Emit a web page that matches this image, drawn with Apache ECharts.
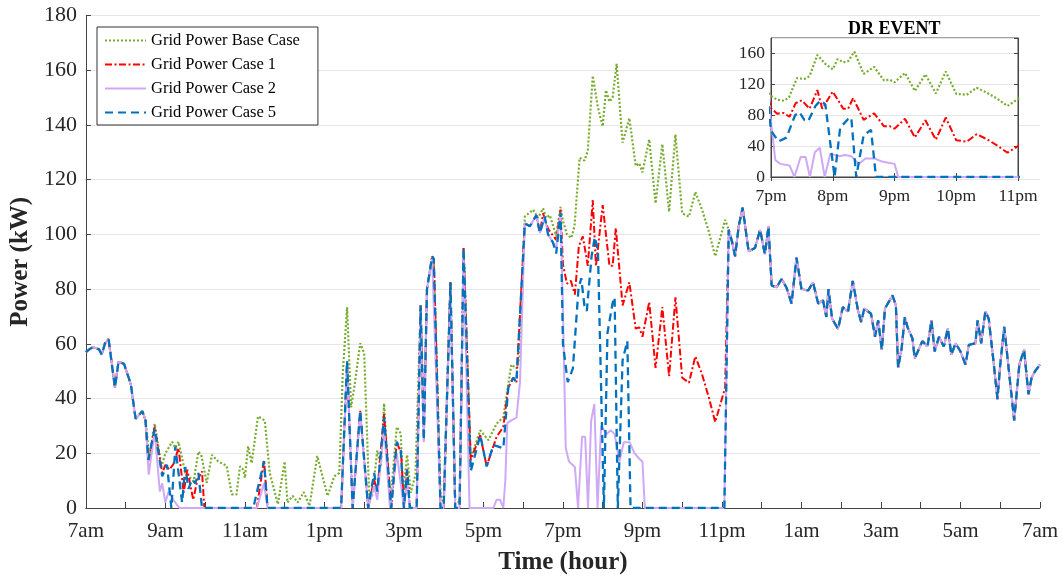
<!DOCTYPE html>
<html>
<head>
<meta charset="utf-8">
<script src="https://cdn.jsdelivr.net/npm/echarts@6/dist/echarts.min.js"></script>
<style>
  html, body { margin: 0; padding: 0; background: #fff; }
  #chart { width: 1064px; height: 580px; }
</style>
</head>
<body>
<div id="chart"></div>
<script>
// hours after 7am, kW
var mainTicks = ['7am', '9am', '11am', '1pm', '3pm', '5pm', '7pm', '9pm', '11pm', '1am', '3am', '5am', '7am'];
var insetTicks = ['7pm', '8pm', '9pm', '10pm', '11pm'];
var names = ['Grid Power Base Case', 'Grid Power Case 1', 'Grid Power Case 2', 'Grid Power Case 5'];

// shared by all cases
var morning = [[0,57],[0.07,57.8],[0.17,58.8],[0.33,58],[0.4,56],[0.48,60.2],[0.57,61.8],[0.73,44],[0.82,53.4],
  [0.96,52.7],[1.13,45.2],[1.25,32.6],[1.42,35.4],[1.5,32]];

var night = [[16.17,101.7],[16.25,97.5],[16.33,92],[16.42,102.9],[16.52,109.8],[16.67,93.8],[16.83,95],[16.96,101.7],
  [17.08,92.7],[17.17,102.9],[17.25,81.3],[17.375,80.7],[17.5,83.7],[17.625,80.5],[17.75,74.7],[17.875,91.5],[18.0,80],
  [18.17,79.5],[18.29,82.5],[18.42,74.7],[18.54,76],[18.625,69.8],[18.68,80],[18.77,69.2],[18.92,65.4],[19.04,73.4],
  [19.17,71.7],[19.29,83],[19.42,72.3],[19.5,68],[19.58,72.9],[19.75,71],[19.85,62.6],[19.93,68.6],[20.02,57.8],
  [20.1,72.9],[20.29,77.7],[20.375,74],[20.43,51.2],[20.52,58.4],[20.6,69.8],[20.67,66],[20.79,62],[20.85,54.8],
  [20.92,57],[21.04,61],[21.17,59],[21.27,68.6],[21.35,57.2],[21.46,62.6],[21.58,59],[21.68,65.6],[21.77,56],
  [21.875,60.2],[22.0,57.2],[22.125,52.4],[22.21,59.6],[22.375,60.2],[22.43,68.6],[22.52,60.2],[22.625,71.9],
  [22.71,69.2],[22.83,53.6],[22.93,39.8],[23.0,52.4],[23.1,66.2],[23.21,51.2],[23.35,32],[23.48,52.4],[23.6,57.8],
  [23.71,41.6],[23.79,47.6],[23.875,50],[24.0,52.4]];

var baseMid = [[1.6,18],[1.73,30.8],[1.9,15.2],[2.0,20],[2.17,24.2],[2.25,22],[2.33,24.2],[2.5,12.8],[2.71,9.8],
  [2.83,20.6],[2.9,19.5],[3.04,9.2],[3.17,19.4],[3.33,17],[3.54,15.4],[3.67,5],[3.79,5],[3.875,15.2],[3.96,14],
  [4.0,11],[4.08,22.6],[4.17,16.4],[4.33,33.5],[4.5,32],[4.625,12.8],[4.83,1.4],[5.0,17],[5.07,2],[5.2,4.4],
  [5.33,2],[5.48,5.8],[5.625,0.8],[5.82,19],[6.08,4.4],[6.25,11.6],[6.375,12.8],[6.46,48.8],[6.57,73.4],[6.67,36.8],
  [6.75,44],[6.9,60.2],[7.0,56.6],[7.125,5],[7.2,4.4],[7.33,21],[7.42,15],[7.5,38.2],[7.65,1],[7.82,29.6],
  [7.92,27.2],[7.98,5.6],[8.08,19.4],[8.17,5.6],[8.29,12.2],[8.42,74],[8.5,30],[8.58,80],[8.71,92],[8.75,91],
  [8.92,5],[9.0,2],[9.17,82.5],[9.29,3],[9.4,2],[9.5,95],[9.68,18.2],[9.92,28.4],[10.125,24.8],[10.33,30.8],
  [10.5,33.2],[10.7,52.4],[10.83,51],[10.92,56],[11.04,106.5],[11.25,109],[11.375,106],[11.5,109.5],[11.58,106],
  [11.67,107],[11.83,99.5],[11.94,110],[12.0,105],[12.1,100],[12.21,98.7],[12.29,103],[12.42,128],[12.54,127],
  [12.625,130.5],[12.75,158],[12.875,146.7],[13.0,139.5],[13.08,152.7],[13.17,148.5],[13.25,150],[13.35,162.3],
  [13.5,133.5],[13.67,142.5],[13.83,125],[13.92,126],[14.0,122.7],[14.17,134.7],[14.33,111.3],[14.5,133],
  [14.67,108.3],[14.83,136.5],[15.0,107.7],[15.17,106.5],[15.33,115.5],[15.5,109],[15.67,101],[15.83,92],[16.08,105.3]];

var case1Mid = [[1.57,17],[1.73,29.6],[1.92,12.8],[2.0,15.8],[2.1,14],[2.2,16],[2.33,21.8],[2.46,5.6],[2.55,14],
  [2.7,3],[2.8,10],[2.92,13.4],[2.98,0],[4.3,0],[4.48,17.6],[4.57,0],[6.42,0],[6.57,53],[6.71,0],[6.9,35.6],
  [7.1,0],[7.25,10.4],[7.33,6],[7.5,34.4],[7.68,0],[7.82,24],[7.93,20],[8.0,0],[8.08,14],[8.15,0],[8.32,0],
  [8.42,74],[8.5,24.8],[8.58,80],[8.71,92],[8.75,91],[8.92,0],[9.0,0],[9.17,82.5],[9.29,0],[9.4,0],[9.5,95],
  [9.68,17.6],[9.92,26.6],[10.08,15.2],[10.33,26],[10.5,29.6],[10.625,44],[10.75,47.6],[10.83,46],[11.04,104],
  [11.17,103],[11.33,107],[11.42,100.5],[11.5,107.7],[11.625,102],[11.83,98],[11.94,109],[12.0,89],[12.1,82],
  [12.2,83],[12.3,78],[12.4,95.7],[12.5,99.3],[12.625,88.5],[12.75,112.5],[12.83,88.5],[13.0,110.7],
  [13.17,88.5],[13.25,88.5],[13.33,102.3],[13.5,74],[13.67,82.5],[13.83,65.6],[13.92,66],[14.0,62.6],[14.17,75.3],
  [14.33,51.2],[14.5,73.4],[14.67,48.2],[14.83,77],[15.0,47.6],[15.17,45.8],[15.33,55.4],[15.5,48.8],[15.67,40.4],
  [15.83,31.4],[16.08,44]];

var case2Mid = [[1.58,12.2],[1.73,28],[1.86,6],[1.92,9],[2.0,2],[2.08,6],[2.2,3],[2.35,0],[4.3,0],[4.48,9],
  [4.57,0],[6.42,0],[6.57,53],[6.71,0],[6.9,35],[7.1,0],[7.25,8],[7.33,3],[7.5,29.6],[7.65,0],[7.82,20],[8.0,0],
  [8.08,10],[8.15,0],[8.32,0],[8.42,72],[8.5,24],[8.58,80],[8.71,91],[8.92,0],[9.0,0],[9.17,80],[9.29,0],[9.4,0],
  [9.5,94],[9.65,0],[10.25,0],[10.33,3],[10.42,3],[10.5,0],[10.55,10],[10.6,31],[10.7,32],[10.83,33],[10.92,46],
  [11.04,104],[11.17,103],[11.33,107],[11.42,100.5],[11.54,106.5],[11.625,100],[11.75,97],[11.83,95],[11.94,108],
  [12.0,72],[12.07,22],[12.15,17],[12.3,15],[12.38,0],[12.48,26],[12.56,26],[12.63,0],[12.71,32],[12.79,38],
  [12.87,0],[12.96,30],[13.1,27],[13.2,28.4],[13.3,27],[13.42,17],[13.53,24],[13.68,24],[13.8,20],[13.92,18],
  [14.0,17],[14.06,0],[16.06,0]];

var case5Mid = [[1.57,17.6],[1.73,29],[1.92,11.6],[2.04,15.8],[2.15,0],[2.25,22.4],[2.42,2],[2.5,15],[2.58,7],
  [2.67,10.4],[2.75,9],[2.83,12.8],[2.92,0],[4.21,0],[4.48,17],[4.57,0],[6.42,0],[6.57,53.8],[6.71,0],[6.9,35.6],
  [7.1,0],[7.25,12.8],[7.33,6],[7.5,33],[7.68,0],[7.82,24.2],[7.92,21],[8.0,0],[8.08,14],[8.15,0],[8.32,0],
  [8.42,74],[8.5,24.8],[8.58,80],[8.71,92],[8.75,91],[8.92,0],[9.0,0],[9.17,82.5],[9.29,0],[9.4,0],[9.5,95],
  [9.68,13.4],[9.92,26.6],[10.08,15.2],[10.25,23],[10.5,21.8],[10.625,44],[10.75,47.6],[10.83,46],[11.04,104],
  [11.17,103],[11.33,107],[11.42,100.5],[11.54,106.5],[11.625,100],[11.75,97],[11.83,93],[11.94,108],[12.0,60],
  [12.12,46],[12.25,51],[12.39,80],[12.46,84],[12.54,74],[12.6,72],[12.72,92],[12.8,99],[12.88,94],[13.03,0],
  [13.12,64],[13.25,75],[13.3,77],[13.38,0],[13.5,54],[13.62,61],[13.7,0],[16.06,0]];

var baseCase = morning.concat(baseMid, night);
var case1 = morning.concat(case1Mid, night);
var case2 = morning.concat(case2Mid, night);
var case5 = morning.concat(case5Mid, night);

var FONT = 'Liberation Serif';
var AXIS = '#444';
var GRIDLINE = '#e6e6e6';

var chart = echarts.init(document.getElementById('chart'));

function line(name, data, color, type, width, idx) {
    return {
        name: name, type: 'line', data: data,
        xAxisIndex: idx === 0 ? 0 : 1, yAxisIndex: idx === 0 ? 0 : 1,
        symbol: 'none', showSymbol: false, clip: true,
        lineStyle: { color: color, width: width, type: type },
        itemStyle: { color: color },
        z: idx === 0 ? 2 : 8
    };
}

var styles = [
    ['#77AC30', [2, 2], 2.2],
    ['#FF0000', [7, 2.5, 2, 2.5], 2],
    ['#CFA9F5', 'solid', 2],
    ['#0072BD', [8, 5], 2.3]
];
var datas = [baseCase, case1, case2, case5];

var series = [];
for (var g = 0; g < 2; g++) {
    for (var i = 0; i < 4; i++) {
        series.push(line(names[i], datas[i], styles[i][0], styles[i][1], styles[i][2], g));
    }
}

var option = {
    animation: false,
    backgroundColor: '#fff',
    title: {
        text: 'DR EVENT', left: 848, top: 20, padding: 0,
        textStyle: { fontFamily: FONT, fontWeight: 'bold', fontSize: 18, color: '#000' }
    },
    legend: {
        data: names, orient: 'vertical', left: 97, top: 27,
        itemWidth: 41, itemHeight: 14, itemGap: 7,
        padding: [5, 18, 4, 7],
        itemStyle: { opacity: 0 },
        backgroundColor: '#fff', borderColor: '#333', borderWidth: 1,
        textStyle: { fontFamily: FONT, fontSize: 16.5, color: '#000' }
    },
    grid: [
        { left: 80, right: 24, top: 15.5, bottom: 64.5 },
        { left: 771, right: 46, top: 38, bottom: 403, show: true, backgroundColor: '#fff',
          borderColor: AXIS, borderWidth: 1, z: 5 }
    ],
    xAxis: [
        {
            gridIndex: 0, type: 'value', min: 0, max: 24, interval: 1,
            axisLine: { lineStyle: { color: AXIS } },
            axisTick: { inside: true, length: 6, lineStyle: { color: AXIS } },
            axisLabel: {
                interval: 0, margin: 13, fontFamily: FONT, fontSize: 21, color: '#262626',
                formatter: function (v) { return v % 2 === 0 ? mainTicks[v / 2] : ''; }
            },
            splitLine: { show: false },
            name: 'Time (hour)', nameLocation: 'middle', nameGap: 42,
            nameTextStyle: { fontFamily: FONT, fontWeight: 'bold', fontSize: 25, color: '#262626' }
        },
        {
            gridIndex: 1, type: 'value', min: 12, max: 16, interval: 1, z: 6,
            axisLine: { lineStyle: { color: AXIS } },
            axisTick: { inside: true, length: 4, lineStyle: { color: AXIS } },
            axisLabel: {
                margin: 10, fontFamily: FONT, fontSize: 17.5, color: '#262626',
                formatter: function (v) { return insetTicks[v - 12]; }
            },
            splitLine: { show: false }
        },
        {
            gridIndex: 1, type: 'value', position: 'top', min: 12, max: 16, interval: 1, z: 6,
            axisLine: { lineStyle: { color: AXIS } },
            axisTick: { inside: true, length: 4, lineStyle: { color: AXIS } },
            axisLabel: { show: false },
            splitLine: { show: false }
        }
    ],
    yAxis: [
        {
            gridIndex: 0, type: 'value', min: 0, max: 180, interval: 20,
            axisLine: { show: true, lineStyle: { color: AXIS } },
            axisTick: { show: true, inside: true, length: 5, lineStyle: { color: AXIS } },
            axisLabel: { margin: 9, fontFamily: FONT, fontSize: 22, color: '#262626' },
            splitLine: { lineStyle: { color: GRIDLINE } },
            name: 'Power (kW)', nameLocation: 'middle', nameGap: 44, nameRotate: 90,
            nameTextStyle: { fontFamily: FONT, fontWeight: 'bold', fontSize: 25, color: '#262626' }
        },
        {
            gridIndex: 1, type: 'value', min: 0, max: 180, interval: 40, z: 6,
            axisLine: { show: true, lineStyle: { color: AXIS } },
            axisTick: { show: true, inside: true, length: 4, lineStyle: { color: AXIS } },
            axisLabel: { margin: 6, showMaxLabel: false, fontFamily: FONT, fontSize: 17.5, color: '#262626' },
            splitLine: { lineStyle: { color: GRIDLINE } }
        },
        {
            gridIndex: 1, type: 'value', position: 'right', min: 0, max: 180, interval: 40, z: 6,
            axisLine: { show: true, lineStyle: { color: AXIS } },
            axisTick: { show: true, inside: true, length: 4, lineStyle: { color: AXIS } },
            axisLabel: { show: false },
            splitLine: { show: false }
        }
    ],
    series: series
};

chart.setOption(option);
</script>
</body>
</html>
